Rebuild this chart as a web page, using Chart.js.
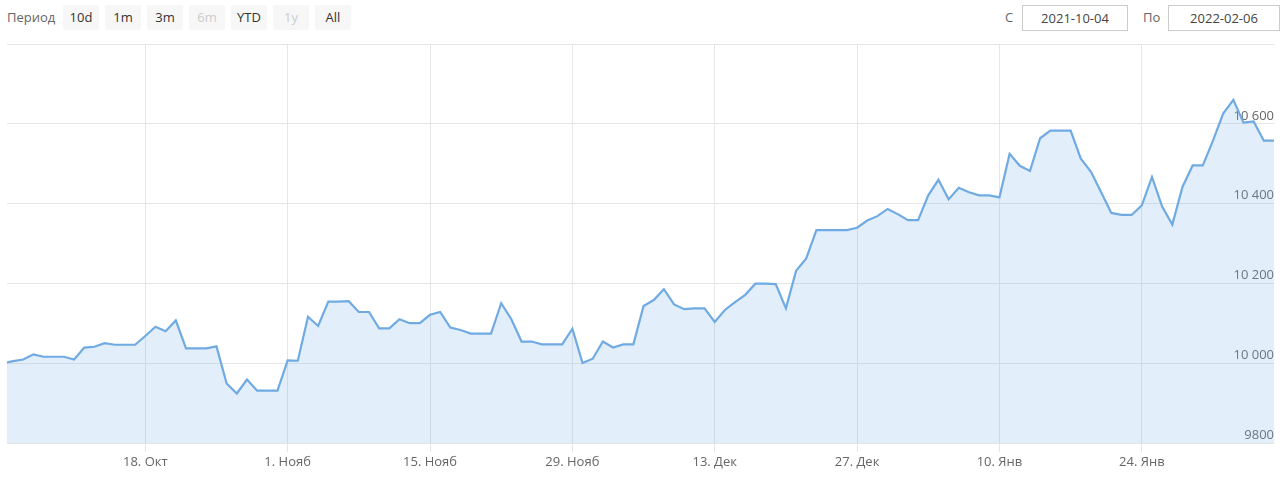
<!DOCTYPE html>
<html>
<head>
<meta charset="utf-8">
<script src="https://cdn.jsdelivr.net/npm/chart.js@4/dist/chart.umd.min.js"></script>
<style>
  body { margin: 0; background: #fff; font-family: "Open Sans", sans-serif; }
  .bar { position: absolute; top: 0; left: 0; width: 1280px; height: 36px; font-size: 13px; color: #666; }
  .bar .lbl { position: absolute; top: 8px; }
  .btn { position: absolute; top: 5px; width: 36px; height: 25px; line-height: 25px; text-align: center; background: #f7f7f7; color: #333; border-radius: 2px; }
  .btn.off { color: #ccc; }
  .inp { position: absolute; top: 5px; height: 24px; line-height: 24px; border: 1px solid #ccc; text-align: center; color: #444; }
  #wrap { position: absolute; top: 36px; left: 0; width: 1280px; height: 441px; }
</style>
</head>
<body>
<div class="bar">
  <span class="lbl" style="left:7px">Период</span>
  <div class="btn" style="left:63px">10d</div>
  <div class="btn" style="left:105px">1m</div>
  <div class="btn" style="left:147px">3m</div>
  <div class="btn off" style="left:189px">6m</div>
  <div class="btn" style="left:231px">YTD</div>
  <div class="btn off" style="left:273px">1y</div>
  <div class="btn" style="left:315px">All</div>
  <span class="lbl" style="left:1005px">С</span>
  <div class="inp" style="left:1022px;width:104px">2021-10-04</div>
  <span class="lbl" style="left:1143px">По</span>
  <div class="inp" style="left:1168px;width:110px">2022-02-06</div>
</div>
<div id="wrap"><canvas id="chart"></canvas></div>
<script>
// daily values, 2021-10-04 .. 2022-02-06
const startDate = '2021-10-04';
const values = [
  10001, 10006, 10010, 10023, 10017, 10017, 10017, 10010, 10040, 10042,
  10051, 10047, 10047, 10047, 10069, 10092, 10081, 10108, 10038, 10038,
  10038, 10043, 9950, 9925, 9960, 9932, 9932, 9932, 10008, 10007,
  10117, 10094, 10155, 10155, 10156, 10129, 10129, 10088, 10088, 10111,
  10101, 10101, 10122, 10129, 10090, 10084, 10075, 10075, 10075, 10151,
  10111, 10055, 10055, 10048, 10048, 10048, 10087, 10001, 10012, 10055,
  10040, 10048, 10048, 10144, 10159, 10186, 10148, 10136, 10138, 10138,
  10104, 10134, 10154, 10172, 10200, 10200, 10199, 10138, 10232, 10263,
  10334, 10334, 10334, 10334, 10340, 10358, 10369, 10387, 10374, 10359,
  10359, 10421, 10460, 10411, 10440, 10429, 10421, 10421, 10416, 10525,
  10495, 10482, 10564, 10583, 10583, 10583, 10513, 10480, 10429, 10377,
  10372, 10372, 10396, 10467, 10393, 10348, 10442, 10496, 10496, 10558,
  10626, 10660, 10603, 10606, 10558, 10558
];
const tickDates = ['2021-10-18', '2021-11-01', '2021-11-15', '2021-11-29', '2021-12-13', '2021-12-27', '2022-01-10', '2022-01-24'];
const tickLabels = ['18. Окт', '1. Нояб', '15. Нояб', '29. Нояб', '13. Дек', '27. Дек', '10. Янв', '24. Янв'];
const yTicks = [9800, 10000, 10200, 10400, 10600, 10800];

// one date per value
const dates = [];
const d0 = new Date(startDate + 'T00:00:00Z');
for (let i = 0; i < values.length; i++) {
  const d = new Date(d0.getTime() + i * 86400000);
  dates.push(d.toISOString().slice(0, 10));
}

const fmt = v => v >= 10000 ? String(v).replace(/\B(?=(\d{3})+(?!\d))/g, ' ') : String(v);

const gridColor = '#e6e6e6';
const textColor = '#666';

new Chart(document.getElementById('chart').getContext('2d'), {
  type: 'line',
  data: {
    datasets: [{
      data: values.map((v, i) => ({ x: i, y: v })),
      borderColor: '#70aae2',
      borderWidth: 2.2,
      backgroundColor: 'rgba(124,181,236,0.22)',
      fill: 'start',
      tension: 0,
      pointRadius: 0,
    }],
  },
  options: {
    responsive: true,
    maintainAspectRatio: false,
    animation: false,
    layout: { padding: { top: 8, left: 7, right: 6, bottom: 5 } },
    plugins: { legend: { display: false }, tooltip: { enabled: false } },
    scales: {
      x: {
        type: 'linear',
        min: 0.4,
        max: values.length - 1,
        afterBuildTicks: scale => {
          scale.ticks = tickDates.map(d => ({ value: dates.indexOf(d) }));
        },
        ticks: {
          color: textColor,
          font: { family: 'Open Sans', size: 13 },
          padding: 2,
          maxRotation: 0,
          callback: v => tickLabels[tickDates.indexOf(dates[v])],
        },
        grid: { color: gridColor, tickLength: 9 },
        border: { display: false },
      },
      y: {
        position: 'right',
        min: 9800,
        max: 10800,
        afterBuildTicks: scale => {
          scale.ticks = yTicks.map(v => ({ value: v }));
        },
        ticks: {
          mirror: true,
          padding: 0,
          labelOffset: -8,
          color: textColor,
          font: { family: 'Open Sans', size: 13 },
          callback: v => v === 10800 ? '' : fmt(v),
        },
        grid: { color: gridColor, drawTicks: false },
        border: { display: false },
      },
    },
  },
});
</script>
</body>
</html>
